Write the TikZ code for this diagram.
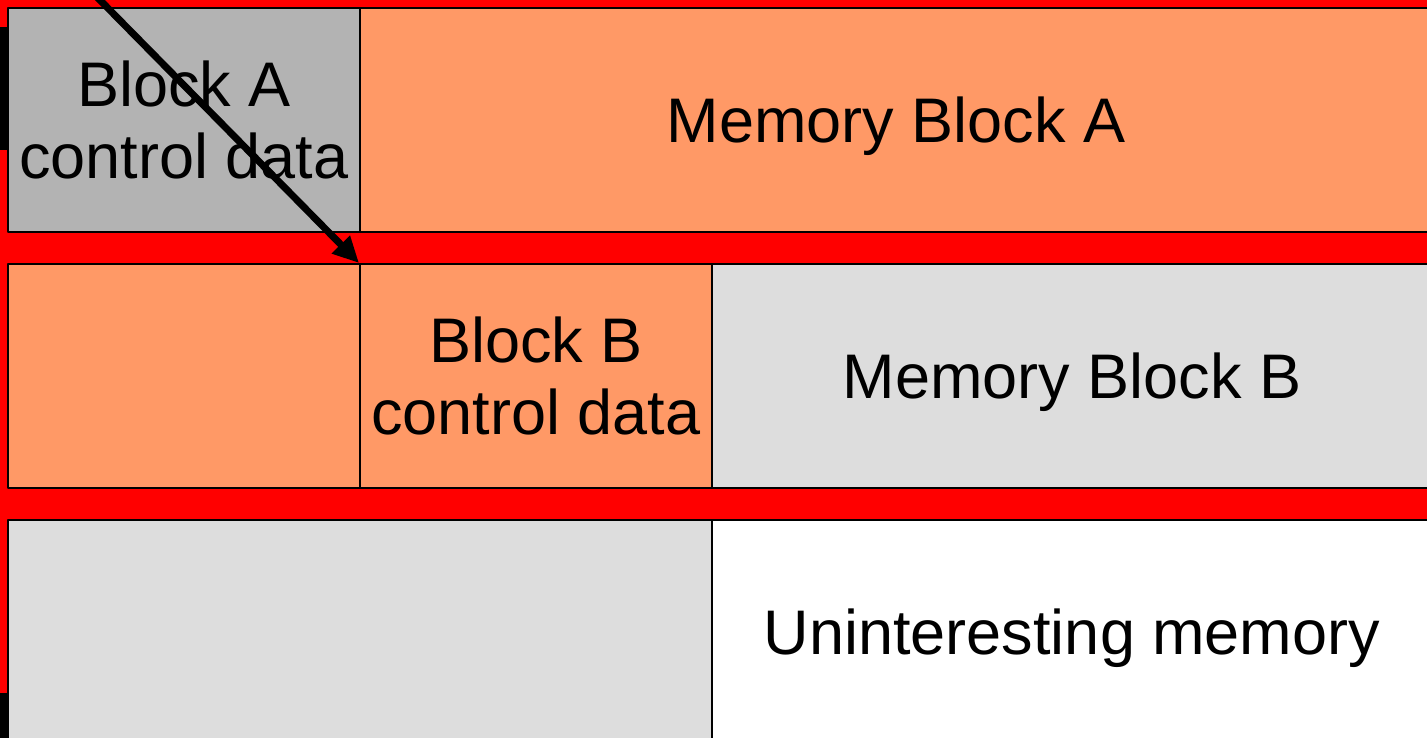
\documentclass[tikz,border=0pt]{standalone}
\usepackage{fontspec}
\setmainfont{Liberation Sans}
\usetikzlibrary{arrows.meta}

\definecolor{bandred}{HTML}{FF0000}
\definecolor{ctlgray}{HTML}{B3B3B3}
\definecolor{usedorange}{HTML}{FF9966}
\definecolor{freegray}{HTML}{DDDDDD}

\begin{document}
\begin{tikzpicture}[x=1pt,y=-1pt,>=Latex,line cap=round,line join=round,
    cell/.style={draw,line width=2pt,anchor=north west,inner sep=0pt,
      minimum height=224pt,align=center,font=\fontsize{63}{72}\selectfont},
    memcell/.style={cell,text depth=0pt}]
  \clip (0,0) rectangle (1427,738);
  \fill[bandred] (0,0) rectangle (1427,738);
  \fill[black] (0,27) rectangle (7,150);
  \fill[black] (0,693) rectangle (7,738);
  % row 1
  \node[cell,fill=ctlgray,minimum width=352pt] (ctlA) at (7,7) {Block A\\control data};
  \node[memcell,fill=usedorange,minimum width=1072pt] (memA) at (359,7) {Memory Block A};
  % row 2
  \node[cell,fill=usedorange,minimum width=352pt] (padB) at (7,263) {};
  \node[cell,fill=usedorange,minimum width=352pt] (ctlB) at (359,263) {Block B\\control data};
  \node[memcell,fill=freegray,minimum width=720pt] (memB) at (711,263) {Memory Block B};
  % row 3
  \node[cell,fill=freegray,minimum width=704pt] (freeC) at (7,519) {};
  \node[memcell,fill=white,minimum width=720pt] (rest) at (711,519) {Uninteresting memory};
  % pointer into block B
  \coordinate (ptrA) at (93,-7);
  \draw[-{Triangle[length=26pt,width=24pt]},line width=7pt] (ptrA) -- (ctlB.north west);
\end{tikzpicture}
\end{document}
